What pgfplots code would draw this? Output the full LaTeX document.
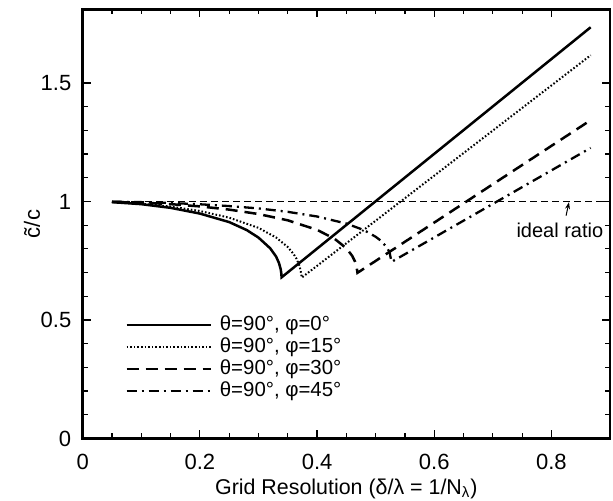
\documentclass[border=0pt]{standalone}
\usepackage{fontspec}
\setmainfont{Liberation Sans}
\usepackage{pgfplots}
\pgfplotsset{compat=1.18}
\usetikzlibrary{arrows.meta}
\begin{document}
\begin{tikzpicture}
\begin{axis}[
  scale only axis, width=263.65pt, height=214.5pt,
  xmin=0, xmax=0.9, ymin=0, ymax=1.81,
  xtick={0,0.2,0.4,0.6,0.8}, minor x tick num=3,
  ytick={0,0.5,1,1.5}, minor y tick num=4,
  tick align=inside,
  xtick pos=both, ytick pos=both,
  major tick length=4pt, minor tick length=2.5pt,
  axis line style={line width=1.4pt},
  every tick/.style={line width=0.6pt, black},
  /pgf/number format/assume math mode=true,
  ticklabel style={font=\fontsize{11}{13}\selectfont},
  xticklabel style={yshift=-4.3pt},
  yticklabel style={xshift=-2.2pt},
  xlabel={Grid Resolution (δ/λ = 1/N\textsubscript{λ})},
  xlabel style={at={(axis description cs:0.5,0)}, anchor=north, yshift=-16.5pt, font=\fontsize{10.7}{13}\selectfont},
  ylabel={c̃/c},
  ylabel style={at={(axis description cs:-0.0961,0.5)}, anchor=center, rotate=0, font=\fontsize{11}{13}\selectfont},
  legend style={at={(axis cs:0.0722,0.52)}, anchor=north west, draw=none, fill=none,
    inner sep=0pt, row sep=1.7pt, column sep=4pt,
    font=\fontsize{10.2}{11}\selectfont,
    nodes={inner sep=0pt, text height=7.3pt, text depth=2pt}},
  legend cell align=left,
  legend image code/.code={\draw[#1] (0pt,0pt) -- (42pt,0pt);},
]
% theta=90, phi=0
\addplot[black, line width=1.25pt] coordinates {
(0.05,0.9972) (0.10,0.9887) (0.15,0.9732) (0.20,0.9490) (0.25,0.9131)
(0.28,0.8793) (0.30,0.8477) (0.32,0.8025) (0.33,0.7680) (0.335,0.7403)
(0.338,0.7136) (0.339,0.6963) (0.3395,0.680) (0.867,1.735)
};
\addlegendentry{θ=90°, φ=0°}
% theta=90, phi=15
\addplot[black, line width=1pt, dash pattern=on 0.8pt off 1.0pt] coordinates {
(0.05,0.9977) (0.10,0.9909) (0.15,0.9786) (0.20,0.9598) (0.25,0.9317)
(0.30,0.8887) (0.33,0.8481) (0.35,0.8078) (0.36,0.7781) (0.365,0.7580)
(0.37,0.7286) (0.372,0.7075) (0.374,0.679) (0.867,1.617)
};
\addlegendentry{θ=90°, φ=15°}
% theta=90, phi=30
\addplot[black, line width=1.25pt, dash pattern=on 6pt off 3.5pt] coordinates {
(0.05,0.9988) (0.10,0.9954) (0.15,0.9888) (0.20,0.9792) (0.25,0.9657)
(0.30,0.9470) (0.35,0.9205) (0.40,0.8803) (0.43,0.8424) (0.45,0.8027)
(0.46,0.7705) (0.465,0.7454) (0.467,0.7300) (0.469,0.699) (0.867,1.343)
};
\addlegendentry{θ=90°, φ=30°}
% theta=90, phi=45
\addplot[black, line width=1.15pt, dash pattern=on 5pt off 2.5pt on 1pt off 2.5pt] coordinates {
(0.05,0.9993) (0.10,0.9972) (0.15,0.9936) (0.20,0.9882) (0.25,0.9806)
(0.30,0.9707) (0.35,0.9563) (0.40,0.9366) (0.45,0.9068) (0.48,0.8793)
(0.50,0.8511) (0.51,0.8325) (0.52,0.8033) (0.524,0.7831) (0.527,0.745)
(0.867,1.226)
};
\addlegendentry{θ=90°, φ=45°}
% ideal ratio
\addplot[black, line width=0.7pt, dash pattern=on 3.5pt off 2pt, forget plot] coordinates {(0.05,1) (0.9,1)};
\node[font=\fontsize{10}{12}\selectfont] at (axis cs:0.8145,0.878) {ideal ratio};
\draw[-{Stealth[length=3.5pt,width=2.5pt]}, line width=0.5pt] (axis cs:0.825,0.94) -- (axis cs:0.830,0.997);
\end{axis}
\pgfresetboundingbox
\path ([shift={(-41.35pt,-31pt)}]current axis.south west) rectangle ([shift={(1.5pt,4.75pt)}]current axis.north east);
\end{tikzpicture}
\end{document}
